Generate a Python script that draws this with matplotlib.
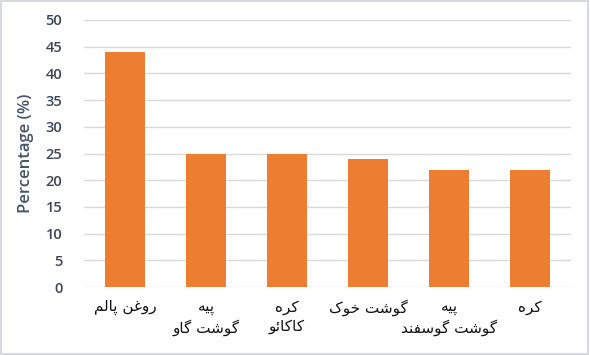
import matplotlib
matplotlib.use('Agg')
import matplotlib.pyplot as plt
from matplotlib.patches import Rectangle

# data
labels = ['روغن پالم', 'پیه\nگوشت گاو', 'کره\nکاکائو', 'گوشت خوک', 'پیه\nگوشت گوسفند', 'کره']
values = [44, 25, 25, 24, 22, 22]
yticks = [0, 5, 10, 15, 20, 25, 30, 35, 40, 45, 50]

# presentation forms: isolated, final, initial, medial
FORMS = {
    'ا': (0xFE8D, 0xFE8E, None, None),
    'د': (0xFEA9, 0xFEAA, None, None),
    'ر': (0xFEAD, 0xFEAE, None, None),
    'و': (0xFEED, 0xFEEE, None, None),
    'ت': (0xFE95, 0xFE96, 0xFE97, 0xFE98),
    'خ': (0xFEA5, 0xFEA6, 0xFEA7, 0xFEA8),
    'س': (0xFEB1, 0xFEB2, 0xFEB3, 0xFEB4),
    'ش': (0xFEB5, 0xFEB6, 0xFEB7, 0xFEB8),
    'غ': (0xFECD, 0xFECE, 0xFECF, 0xFED0),
    'ف': (0xFED1, 0xFED2, 0xFED3, 0xFED4),
    'ل': (0xFEDD, 0xFEDE, 0xFEDF, 0xFEE0),
    'م': (0xFEE1, 0xFEE2, 0xFEE3, 0xFEE4),
    'ن': (0xFEE5, 0xFEE6, 0xFEE7, 0xFEE8),
    'ه': (0xFEE9, 0xFEEA, 0xFEEB, 0xFEEC),
    'ئ': (0xFE89, 0xFE8A, 0xFE8B, 0xFE8C),
    'پ': (0xFB56, 0xFB57, 0xFB58, 0xFB59),
    'ک': (0xFB8E, 0xFB8F, 0xFB90, 0xFB91),
    'گ': (0xFB92, 0xFB93, 0xFB94, 0xFB95),
    'ی': (0xFBFC, 0xFBFD, 0xFBFE, 0xFBFF),
}


def shape_line(s):
    out = []
    for i, c in enumerate(s):
        if c not in FORMS:
            out.append(c)
            continue
        prev = s[i - 1] if i > 0 else ''
        nxt = s[i + 1] if i + 1 < len(s) else ''
        join_prev = prev in FORMS and FORMS[prev][2] is not None
        join_next = FORMS[c][2] is not None and nxt in FORMS
        f = FORMS[c]
        if join_prev and join_next:
            code = f[3]
        elif join_prev:
            code = f[1]
        elif join_next:
            code = f[2]
        else:
            code = f[0]
        out.append(chr(code))
    return ''.join(reversed(out))


def shape(s):
    return '\n'.join(shape_line(l) for l in s.split('\n'))


fig = plt.figure(figsize=(5.9, 3.55), dpi=100)
ax = fig.add_axes([0.1432, 0.1915, 0.8238, 0.7522])

x = range(len(values))
ax.bar(x, values, width=0.49, color='#ED7D31', zorder=3)

ax.set_xlim(-0.5, len(values) - 0.5)
ax.set_ylim(0, 50)
ax.set_yticks(yticks)
ax.yaxis.grid(True, color='#d9d9d9', linewidth=1, zorder=0)
for s in ax.spines.values():
    s.set_visible(False)
ax.tick_params(axis='y', length=0, pad=16, labelsize=10.5, labelcolor='#3b4658')
for t in ax.get_yticklabels():
    t.set_fontfamily('Open Sans')
    t.set_fontweight('semibold')

ax.set_xticks(list(x))
ax.set_xticklabels([shape(l) for l in labels], fontsize=11, family='DejaVu Sans',
                   color='#111111', va='top', ha='center', linespacing=1.35)
ax.tick_params(axis='x', length=0, pad=9)

ax.set_ylabel('Percentage (%)', fontsize=12, color='#44546A', family='Open Sans',
              fontweight='semibold', labelpad=8)

fig.add_artist(Rectangle((0.002, 0.003), 0.995, 0.994, transform=fig.transFigure,
                         fill=False, edgecolor='#d6dae0', linewidth=1.5))

fig.savefig('out.png', dpi=100)
